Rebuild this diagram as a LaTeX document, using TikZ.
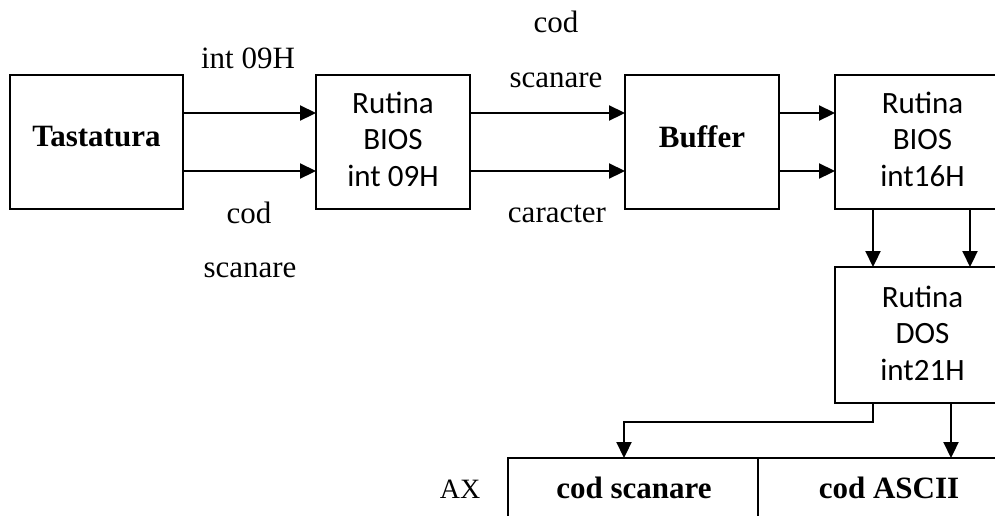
\documentclass[tikz,border=0pt]{standalone}
\usepackage{fontspec}
\setmainfont{Liberation Serif}
\newfontfamily\boxfont{Carlito}
\usetikzlibrary{arrows.meta}
\begin{document}
\begin{tikzpicture}[x=1pt,y=-1pt,line width=2.2pt,
  box/.style={draw,inner sep=0pt,outer sep=0pt},
  arr/.style={-{Triangle[length=16pt,width=15pt]}},
  lbl/.style={font=\fontsize{31}{36}\selectfont,anchor=base,inner sep=0pt},
  btxt/.style={font=\boxfont\fontsize{31}{36.5}\selectfont,align=center},
  bold/.style={font=\bfseries\fontsize{31}{36}\selectfont}]
\useasboundingbox (0,0) rectangle (995,515);
\clip (0,0) rectangle (995,515);
% boxes
\node[box,minimum width=173pt,minimum height=134pt] (tast) at (96.5,142) {};
\node[box,minimum width=154pt,minimum height=134pt] (bios9) at (393,142) {};
\node[box,minimum width=154pt,minimum height=134pt] (buf) at (702,142) {};
\node[box,minimum width=175pt,minimum height=134pt] (bios16) at (922.5,142) {};
\node[box,minimum width=175pt,minimum height=136pt] (dos) at (922.5,335) {};
\node[box,minimum width=250pt,minimum height=72pt] (reg1) at (633,494) {};
\node[box,minimum width=250pt,minimum height=72pt] (reg2) at (883,494) {};
% texts in boxes
\node[bold] (tastt) at (96.5,137) {Tastatura};
\node[bold] (buft) at (702,137) {Buffer};
\node[btxt] (bios9t) at (393,139) {Rutina\\BIOS\\int 09H};
\node[btxt] (bios16t) at (922.5,139) {Rutina\\BIOS\\int16H};
\node[btxt] (dost) at (922.5,333) {Rutina\\DOS\\int21H};
\node[lbl,font=\bfseries\fontsize{31}{36}\selectfont] (r1t) at (634,498) {cod scanare};
\node[lbl,font=\bfseries\fontsize{31}{36}\selectfont] (r2t) at (889,498) {cod ASCII};
% labels
\node[lbl] (l1) at (248,68) {int 09H};
\node[lbl] (l2) at (249,223) {cod};
\node[lbl] (l3) at (250,277) {scanare};
\node[lbl] (l4) at (556,32) {cod};
\node[lbl] (l5) at (556,87) {scanare};
\node[lbl] (l6) at (557,222) {caracter};
\node[lbl,font=\fontsize{28}{32}\selectfont] (ax) at (460,498) {AX};
% arrows
\draw[arr] ([yshift=29pt]tast.east) -- ([yshift=29pt]bios9.west);
\draw[arr] ([yshift=-29pt]tast.east) -- ([yshift=-29pt]bios9.west);
\draw[arr] ([yshift=29pt]bios9.east) -- ([yshift=29pt]buf.west);
\draw[arr] ([yshift=-29pt]bios9.east) -- ([yshift=-29pt]buf.west);
\draw[arr] ([yshift=29pt]buf.east) -- ([yshift=29pt]bios16.west);
\draw[arr] ([yshift=-29pt]buf.east) -- ([yshift=-29pt]bios16.west);
\draw[arr] ([xshift=-49.5pt]bios16.south) -- ([xshift=-49.5pt]dos.north);
\draw[arr] ([xshift=47.5pt]bios16.south) -- ([xshift=47.5pt]dos.north);
\draw[arr] ([xshift=-49.5pt]dos.south) -- ++(0,19) -| ([xshift=-9pt]reg1.north);
\draw[arr] ([xshift=28.5pt]dos.south) -- ([xshift=28.5pt]dos.south |- reg2.north);
\end{tikzpicture}
\end{document}
